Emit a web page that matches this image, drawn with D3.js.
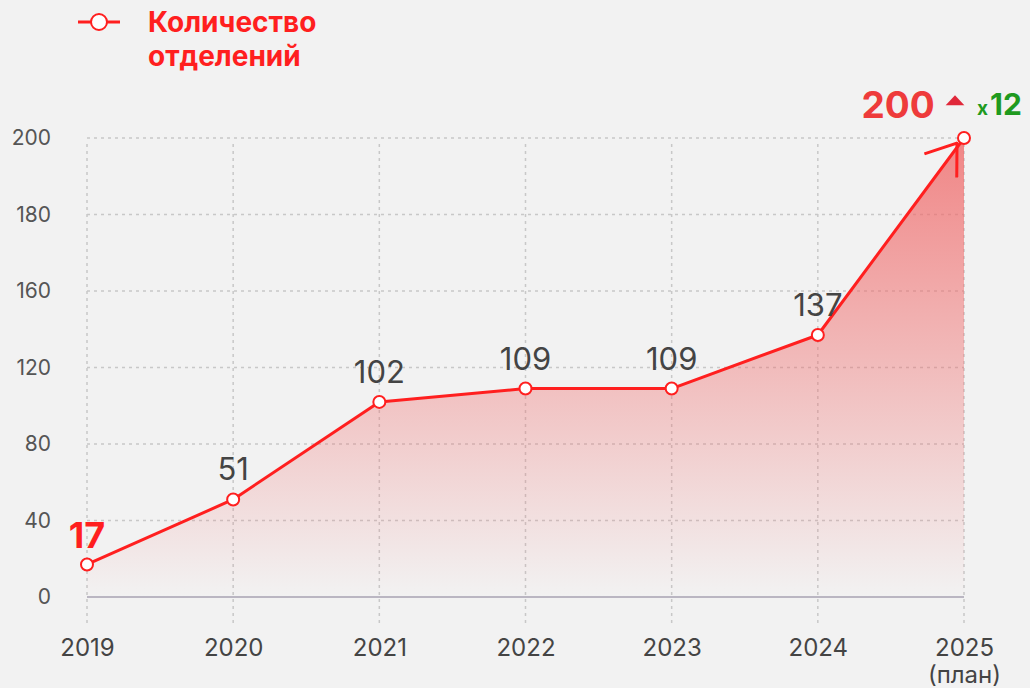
<!DOCTYPE html>
<html>
<head>
<meta charset="utf-8">
<script src="https://cdn.jsdelivr.net/npm/d3@7"></script>
<style>
  body { margin: 0; background: #f2f2f2; font-family: Inter, "Open Sans", sans-serif; }
  svg { display: block; }
  .grid line { stroke: #c8c8c8; stroke-width: 1.5; stroke-dasharray: 3 4; }
  .ylab text { fill: #555; font-size: 21px; }
  .xlab text { fill: #444; font-size: 24px; }
  .val { fill: #444; font-size: 31px; text-anchor: middle; }
</style>
</head>
<body>
<script>
// Data
let years = ["2019", "2020", "2021", "2022", "2023", "2024", "2025"];
let values = [17, 51, 102, 109, 109, 137, 200];
let yTicks = [0, 40, 80, 120, 160, 180, 200];
let legendLabel = ["Количество", "отделений"];
let growth = "x12";

let w = 1030, h = 688;

let svg = d3.select("body").append("svg")
  .attr("width", w)
  .attr("height", h);

// Scales (tick labels are evenly spaced, so the scale is piecewise)
let xScale = d3.scalePoint().domain(years).range([87, 964]);
let yScale = d3.scaleLinear()
  .domain(yTicks)
  .range(yTicks.map((d, i) => 597 - i * (597 - 138) / (yTicks.length - 1)));

// Gradient
let defs = svg.append("defs");
let grad = defs.append("linearGradient")
  .attr("id", "fillGrad")
  .attr("gradientUnits", "userSpaceOnUse")
  .attr("x1", 0).attr("y1", yScale(200))
  .attr("x2", 0).attr("y2", yScale(0));
grad.append("stop").attr("offset", "0%").attr("stop-color", "#f06a6a").attr("stop-opacity", 0.8);
grad.append("stop").attr("offset", "100%").attr("stop-color", "#f06a6a").attr("stop-opacity", 0.0);

// arrow head
defs.append("marker")
  .attr("id", "arrow")
  .attr("viewBox", "0 0 30 42")
  .attr("refX", 29).attr("refY", 21)
  .attr("markerWidth", 30).attr("markerHeight", 42)
  .attr("markerUnits", "userSpaceOnUse")
  .attr("orient", "auto")
  .append("path")
  .attr("d", "M1,1 L29,21 L1,41")
  .attr("fill", "none")
  .attr("stroke", "#ff1f1f")
  .attr("stroke-width", 3);

// Grid
let grid = svg.append("g").attr("class", "grid");
grid.selectAll(".hg")
  .data(yTicks.filter(d => d > 0))
  .join("line")
  .attr("x1", xScale(years[0])).attr("x2", xScale(years[years.length - 1]))
  .attr("y1", d => yScale(d)).attr("y2", d => yScale(d));
grid.selectAll(".vg")
  .data(years)
  .join("line")
  .attr("x1", d => xScale(d)).attr("x2", d => xScale(d))
  .attr("y1", yScale(200) + 6).attr("y2", 625);

// Baseline
svg.append("line")
  .attr("x1", xScale(years[0])).attr("x2", xScale(years[years.length - 1]))
  .attr("y1", yScale(0)).attr("y2", yScale(0))
  .attr("stroke", "#bab6c2").attr("stroke-width", 2);

// Y axis labels
let yAxis = d3.axisLeft(yScale).tickValues(yTicks).tickSize(0).tickPadding(0);
svg.append("g")
  .attr("class", "ylab")
  .attr("transform", "translate(51,0)")
  .call(yAxis)
  .call(g => g.select(".domain").remove())
  .selectAll("text").attr("font-family", "Inter, sans-serif");

// X axis labels
let xAxis = d3.axisBottom(xScale).tickSize(0).tickPadding(0);
let xg = svg.append("g")
  .attr("class", "xlab")
  .attr("transform", "translate(0,639)")
  .call(xAxis)
  .call(g => g.select(".domain").remove());
xg.selectAll("text").attr("font-family", "Inter, sans-serif");
xg.selectAll(".tick").filter(d => d === "2025")
  .append("text")
  .attr("y", 27).attr("dy", "0.71em")
  .attr("fill", "#444")
  .attr("font-family", "Inter, sans-serif")
  .text("(план)");

// Area + line
let pts = years.map((y, i) => ({ year: y, value: values[i] }));
let area = d3.area()
  .x(d => xScale(d.year))
  .y0(yScale(0))
  .y1(d => yScale(d.value));
let line = d3.line()
  .x(d => xScale(d.year))
  .y(d => yScale(d.value));

svg.append("path").datum(pts)
  .attr("d", area)
  .attr("fill", "url(#fillGrad)");

svg.append("path").datum(pts)
  .attr("d", line)
  .attr("fill", "none")
  .attr("stroke", "#ff1f1f")
  .attr("stroke-width", 3)
  .attr("stroke-linejoin", "round");

// Arrow on the last segment
let n = pts.length;
svg.append("line")
  .attr("x1", xScale(pts[n - 2].year)).attr("y1", yScale(pts[n - 2].value))
  .attr("x2", xScale(pts[n - 1].year) - 7).attr("y2", yScale(pts[n - 1].value) + 5)
  .attr("stroke", "none")
  .attr("marker-end", "url(#arrow)");

// Points
svg.selectAll(".pt")
  .data(pts)
  .join("circle")
  .attr("cx", d => xScale(d.year))
  .attr("cy", d => yScale(d.value))
  .attr("r", 6)
  .attr("fill", "#fff")
  .attr("stroke", "#ff1f1f")
  .attr("stroke-width", 2);

// Value labels (middle points)
svg.selectAll(".val")
  .data(pts.slice(1, n - 1))
  .join("text")
  .attr("class", "val")
  .attr("x", d => xScale(d.year))
  .attr("y", d => yScale(d.value) - 19)
  .text(d => d.value);

// First value
svg.append("text")
  .attr("x", xScale(pts[0].year))
  .attr("y", 548)
  .attr("text-anchor", "middle")
  .attr("font-size", 36)
  .attr("font-weight", 700)
  .attr("fill", "#ff1f1f")
  .text(pts[0].value);

// Last value with growth marker
svg.append("text")
  .attr("x", 898)
  .attr("y", 118)
  .attr("text-anchor", "middle")
  .attr("font-size", 37)
  .attr("font-weight", 700)
  .attr("fill", "#ee3b3b")
  .text(pts[n - 1].value);

svg.append("path")
  .attr("d", d3.symbol(d3.symbolTriangle, 90)())
  .attr("transform", "translate(955,102) scale(1.3,0.8)")
  .attr("fill", "#e0283a");

svg.append("text")
  .attr("x", 977)
  .attr("y", 115)
  .attr("font-size", 30)
  .attr("font-weight", 700)
  .attr("fill", "#1f9a1f")
  .call(t => t.append("tspan").attr("font-size", 19).text(growth[0]))
  .call(t => t.append("tspan").attr("dx", 2).text(growth.slice(1)));

// Legend
let leg = svg.append("g");
leg.append("line")
  .attr("x1", 78).attr("x2", 120)
  .attr("y1", 22).attr("y2", 22)
  .attr("stroke", "#ff1f1f").attr("stroke-width", 3);
leg.append("circle")
  .attr("cx", 99).attr("cy", 22).attr("r", 8)
  .attr("fill", "#fff").attr("stroke", "#ff1f1f").attr("stroke-width", 2);
leg.selectAll(".lt")
  .data(legendLabel)
  .join("text")
  .attr("x", 148)
  .attr("y", (d, i) => 32 + i * 34)
  .attr("font-size", 28)
  .attr("font-weight", 700)
  .attr("fill", "#ff1f1f")
  .text(d => d);
</script>
</body>
</html>
